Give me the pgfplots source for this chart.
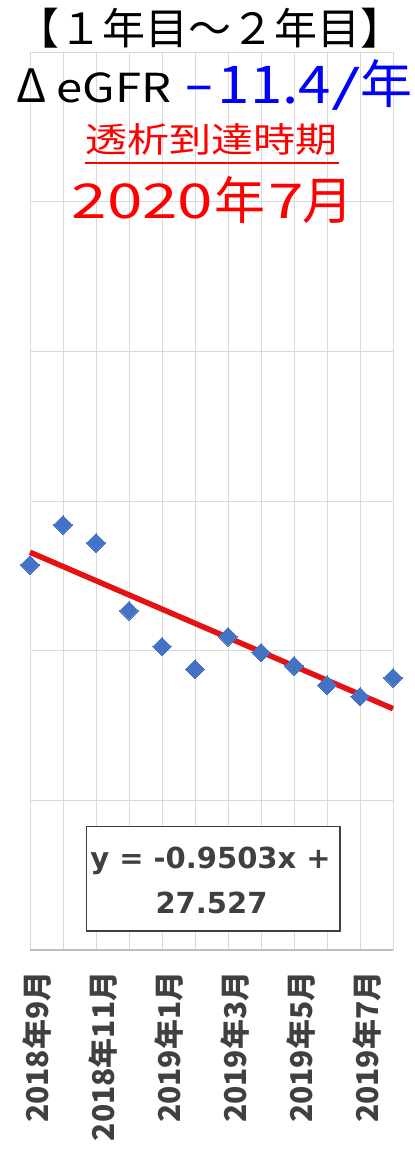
\documentclass[border=0pt]{standalone}
\usepackage{fontspec}
\usepackage{graphicx}
\usepackage{pgfplots}
\pgfplotsset{compat=1.18}
\newfontfamily\jp{Noto Sans CJK JP}
\newfontfamily\dv{DejaVu Sans}
\definecolor{mkblue}{RGB}{68,114,196}
\definecolor{trred}{RGB}{228,18,18}
\definecolor{gridc}{RGB}{217,217,217}
\definecolor{axc}{RGB}{191,191,191}
\definecolor{dgray}{RGB}{64,64,64}
\newcommand\fs[1]{\fontsize{#1bp}{#1bp}\selectfont}
\begin{document}
\begin{tikzpicture}
\useasboundingbox (0,0) rectangle (415bp,-1151bp);
\begin{axis}[
  at={(30bp,-950bp)}, anchor=south west,
  scale only axis, width=363bp, height=898bp,
  xmin=1, xmax=12, ymin=0, ymax=60,
  xtick={1,...,12},
  xticklabels={2018年9月,,2018年11月,,2019年1月,,2019年3月,,2019年5月,,2019年7月,},
  ytick={0,10,...,60}, yticklabels={},
  grid=major, major grid style={draw=gridc, line width=1bp},
  axis line style={draw=none},
  tick style={draw=none},
  xticklabel shift=18bp,
  xticklabel style={font=\jp\bfseries\fs{30}, text=dgray, rotate=90, anchor=east, yshift=-7.5bp},
  clip=false,
]
\addplot[only marks, mark=square*, mark size=6.6bp, mark options={rotate=45, fill=mkblue, draw=mkblue, line width=0pt}]
  coordinates {(1,25.73) (2,28.40) (3,27.20) (4,22.67) (5,20.27) (6,18.76) (7,20.93) (8,19.87) (9,18.98) (10,17.69) (11,16.93) (12,18.18)};
\addplot[trred, line width=5.5bp, no markers] coordinates {(1,26.5767) (12,16.1234)};
\draw[axc, line width=1.3bp] (rel axis cs:0,0) -- (rel axis cs:1,0);
\end{axis}
\begin{scope}[x=1bp, y=-1bp, every node/.style={inner sep=0, anchor=base}]
% line 1
\node[font=\jp\fs{43}] at (210.5,44) {【１年目～２年目】};
% line 2
\node[font=\jp\fs{46}] at (31.5,102) {Δ};
\node at (114,102) {\scalebox{1.18}[1]{\jp\fs{40}eGFR}};
\node[text=blue] at (199.5,107) {\scalebox{0.61}[1]{\jp\fs{52}－}};
\node[text=blue] at (274.5,103) {\scalebox{1.12}[1]{\jp\fs{52}11.4}};
\node[text=blue] at (346,103) {\scalebox{1.45}[0.85]{\jp\fs{52}/}};
\node[text=blue, font=\jp\fs{52}] at (386.5,103) {年};
% line 3
\node[text=red] at (212,152) {\scalebox{1}[0.82]{\jp\fs{42}透析到達時期}};
\draw[red, line width=2bp] (85,162.5) -- (339,162.5);
% line 4
\node[text=red] at (142.5,218) {\scalebox{1.33}[1]{\jp\fs{48}2020}};
\node[text=red, font=\jp\fs{51}] at (240,219) {年};
\node[text=red] at (286.5,218) {\scalebox{1.33}[1]{\jp\fs{48}7}};
\node[text=red, font=\jp\fs{51}] at (327.5,219) {月};
% trendline equation
\draw[dgray, line width=1.5bp, fill=white] (86.7,826.7) rectangle (340,931);
\node[text=dgray, font=\dv\bfseries\fs{29}] at (210.5,868) {y = -0.9503x +};
\node[text=dgray, font=\dv\bfseries\fs{29}] at (211.5,913) {27.527};
\end{scope}
\end{tikzpicture}
\end{document}
